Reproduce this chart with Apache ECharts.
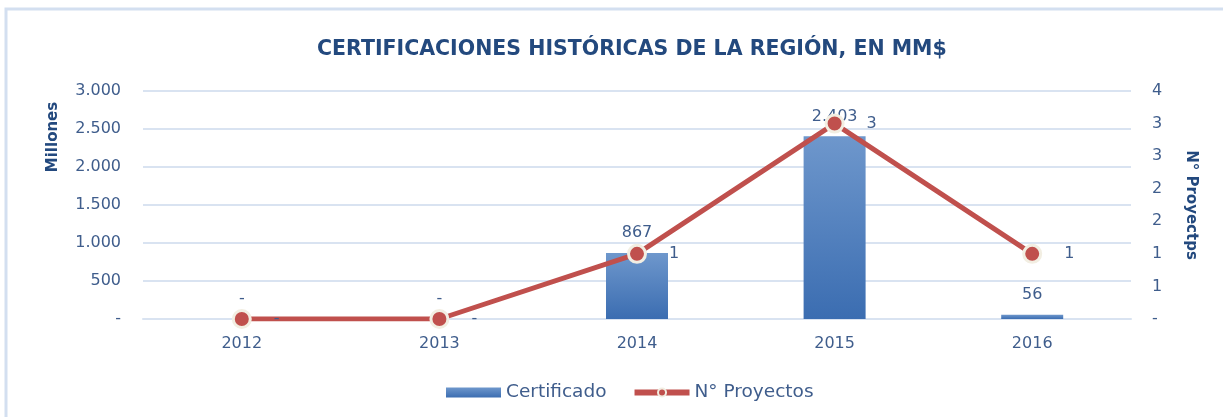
<!DOCTYPE html>
<html><head><meta charset="utf-8">
<script src="https://cdn.jsdelivr.net/npm/echarts@6/dist/echarts.min.js"></script>
<style>html,body{margin:0;padding:0;background:#fff}#c{width:1223px;height:417px}</style>
</head><body><div id="c"></div>
<script>
const years = ['2012','2013','2014','2015','2016'];
const certificado = [0, 0, 867, 2403, 56];
const proyectos = [0, 0, 1, 3, 1];
const titleText = 'CERTIFICACIONES HISTÓRICAS DE LA REGIÓN, EN MM$';
const leftAxisName = 'Millones';
const rightAxisName = 'N° Proyectps';

const FONT = 'DejaVu Sans';
const TXT = '#3f5d8c';
const NAVY = '#23497e';
function thou(v){ return v === 0 ? '-' : String(Math.round(v)).replace(/\B(?=(\d{3})+(?!\d))/g, '.'); }

const chart = echarts.init(document.getElementById('c'), null, {renderer:'canvas'});
chart.setOption({
  animation:false,
  backgroundColor:'#fff',
  textStyle:{fontFamily:FONT},
  title:{text:titleText, left:312, top:34, textStyle:{fontFamily:FONT, fontSize:20.5, fontWeight:'bold', color:NAVY}},
  graphic:[
    {type:'rect', shape:{x:6, y:9, width:1240, height:430}, style:{fill:'none', stroke:'#d3dff0', lineWidth:3}, silent:true},
    {type:'text', x:53, y:137, rotation:Math.PI/2, style:{text:leftAxisName, fontFamily:FONT, fontSize:15, fontWeight:'bold', fill:NAVY, textAlign:'center', textVerticalAlign:'middle'}}
  ],
  legend:{top:378, left:441, itemWidth:55, itemHeight:10, itemGap:25,
    textStyle:{fontFamily:FONT, fontSize:18.5, color:TXT},
    data:[{name:'Certificado', icon:'rect'},
          {name:'N° Proyectos', lineStyle:{width:6, color:'#c0504d'}, itemStyle:{color:'#c0504d', borderColor:'#f2eee2', borderWidth:2}}]},
  grid:{left:143, right:92, top:91, bottom:98},
  xAxis:{type:'category', data:years, axisTick:{show:false},
    axisLine:{show:true, lineStyle:{color:'#d9e3f1', width:2}},
    axisLabel:{fontFamily:FONT, fontSize:16, color:TXT, margin:17}},
  yAxis:[
    {type:'value', min:0, max:3000, interval:500,
      axisLine:{show:false}, axisTick:{show:false},
      splitLine:{lineStyle:{color:'#d9e3f1', width:2}},
      axisLabel:{fontFamily:FONT, fontSize:16, color:TXT, margin:22, formatter:thou}},
    {type:'value', min:0, max:3.5, interval:0.5, position:'right',
      name:rightAxisName, nameLocation:'middle', nameRotate:-90, nameGap:52,
      nameTextStyle:{fontFamily:FONT, fontSize:15, fontWeight:'bold', color:NAVY},
      axisLine:{show:false}, axisTick:{show:false}, splitLine:{show:false},
      axisLabel:{fontFamily:FONT, fontSize:16, color:TXT, margin:21, formatter:v=> v===0 ? '-' : String(Math.round(v))}}
  ],
  series:[
    {name:'Certificado', type:'bar', data:certificado, barWidth:62, yAxisIndex:0,
      itemStyle:{color:new echarts.graphic.LinearGradient(0,0,0,1,[{offset:0,color:'#6e97cc'},{offset:1,color:'#3b6db1'}])},
      label:{show:true, position:'top', distance:12, fontFamily:FONT, fontSize:16, color:TXT, formatter:p=>thou(p.value)}},
    {name:'N° Proyectos', type:'line', data:proyectos, yAxisIndex:1, z:5,
      lineStyle:{color:'#c0504d', width:5}, symbol:'circle', symbolSize:17,
      itemStyle:{color:'#c0504d', borderColor:'#f2eee2', borderWidth:3},
      label:{show:true, position:'right', distance:22, fontFamily:FONT, fontSize:16, color:TXT, formatter:p=> p.value===0 ? '-' : String(p.value)}}
  ]
});
</script></body></html>
